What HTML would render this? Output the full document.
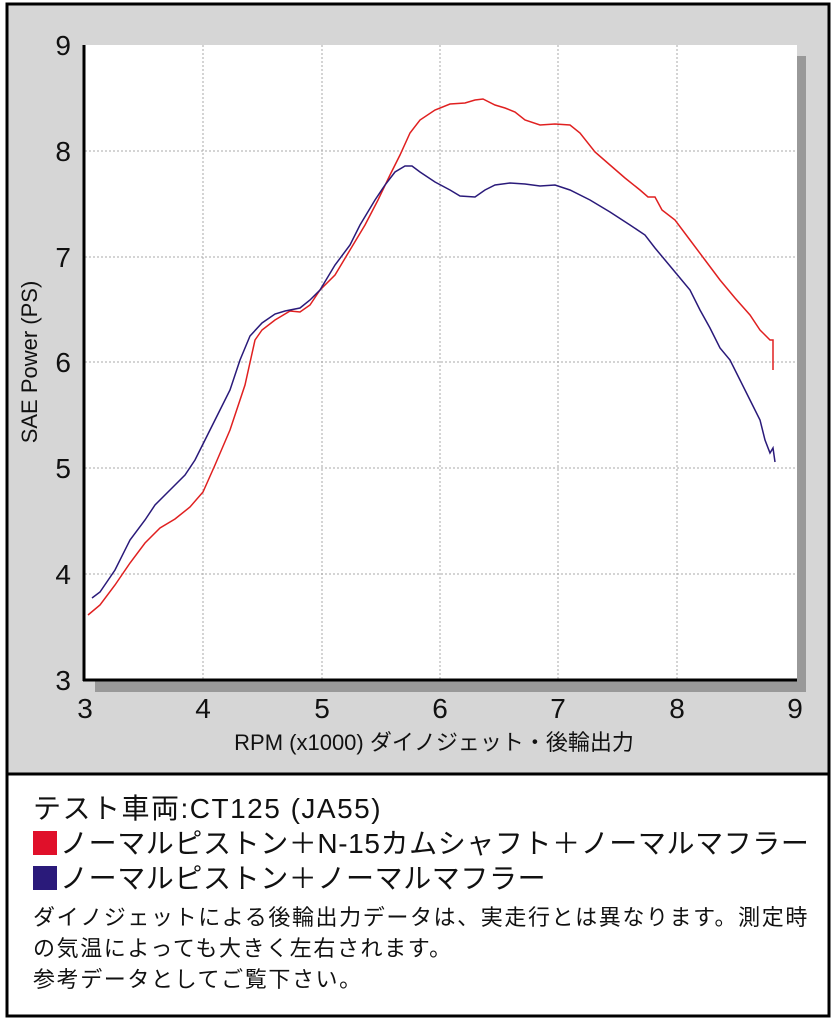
<!DOCTYPE html>
<html><head><meta charset="utf-8"><style>
html,body{margin:0;padding:0;background:#fff}
body{width:838px;height:1024px;position:relative;overflow:hidden;font-family:"Liberation Sans","Noto Sans CJK JP",sans-serif}
.t{position:absolute;white-space:nowrap;color:#111}
.sq{display:inline-block;width:24px;height:24px;margin:0 3px 0 2px;vertical-align:-2px}
</style></head><body>
<svg width="838" height="1024" style="position:absolute;left:0;top:0">
<rect x="7" y="4" width="822" height="770" fill="#d6d6d6"/>
<rect x="95" y="56" width="711" height="636" fill="#999"/>
<rect x="85" y="45" width="712" height="635" fill="#fff"/>
<g stroke="#aaa" stroke-width="1" stroke-dasharray="2,2">
<line x1="203" y1="45" x2="203" y2="680"/><line x1="322" y1="45" x2="322" y2="680"/><line x1="440" y1="45" x2="440" y2="680"/><line x1="558" y1="45" x2="558" y2="680"/><line x1="677" y1="45" x2="677" y2="680"/>
<line x1="85" y1="151" x2="797" y2="151"/><line x1="85" y1="257" x2="797" y2="257"/><line x1="85" y1="362" x2="797" y2="362"/><line x1="85" y1="468" x2="797" y2="468"/><line x1="85" y1="574" x2="797" y2="574"/>
</g>
<line x1="84" y1="45" x2="84" y2="681" stroke="#000" stroke-width="3"/>
<line x1="83" y1="680" x2="797" y2="680" stroke="#000" stroke-width="3"/>
<polyline fill="none" stroke="#e02020" stroke-width="1.5" points="88,615 100,605 115,585 130,563 145,543 160,528 175,519 190,507 203,492 215,465 230,430 245,385 255,340 262,330 275,320 290,311 300,312 310,305 320,290 335,275 350,250 365,225 378,200 390,175 400,155 410,133 420,120 435,110 450,104 465,103 475,100 483,99 495,105 505,108 515,112 525,120 540,125 555,124 570,125 580,133 595,152 610,165 625,178 640,190 648,197 655,197 662,210 675,220 690,240 705,260 720,280 735,298 750,315 760,330 765,335 770,340 773,340 773,370"/>
<polyline fill="none" stroke="#2a1a7a" stroke-width="1.5" points="92,598 100,592 115,570 130,540 145,520 155,505 170,490 185,475 195,460 205,440 215,420 230,390 240,360 250,336 262,323 275,314 285,311 300,308 310,300 320,290 335,265 350,245 360,225 375,200 385,185 395,172 405,166 412,166 420,172 435,182 450,190 460,196 475,197 485,190 495,185 510,183 525,184 540,186 555,185 570,190 590,200 610,212 630,225 645,235 655,248 665,260 680,278 690,290 700,310 710,328 720,348 730,360 740,380 750,400 760,420 765,440 770,453 773,448 775,462"/>
<rect x="7" y="4" width="822" height="1012" fill="none" stroke="#000" stroke-width="3"/>
<line x1="7" y1="774" x2="829" y2="774" stroke="#000" stroke-width="3"/>
<g font-family="Liberation Sans, sans-serif" font-size="28" fill="#111" text-anchor="end">
<text x="71" y="55">9</text><text x="71" y="161">8</text><text x="71" y="267">7</text><text x="71" y="372">6</text><text x="71" y="478">5</text><text x="71" y="584">4</text><text x="71" y="690">3</text>
</g>
<g font-family="Liberation Sans, sans-serif" font-size="28" fill="#111" text-anchor="middle">
<text x="85" y="718">3</text><text x="203" y="718">4</text><text x="322" y="718">5</text><text x="440" y="718">6</text><text x="558" y="718">7</text><text x="677" y="718">8</text><text x="795" y="718">9</text>
</g>
<text x="434" y="750" text-anchor="middle" font-family="Liberation Sans, Noto Sans CJK JP, sans-serif" font-size="22" fill="#111">RPM (x1000) ダイノジェット・後輪出力</text>
<text transform="translate(37,362) rotate(-90)" text-anchor="middle" font-family="Liberation Sans, sans-serif" font-size="22" fill="#111">SAE Power (PS)</text>
</svg>
<div class="t" style="left:33px;top:787px;font-size:28px;letter-spacing:1.5px">テスト車両:CT125 (JA55)</div>
<div class="t" style="left:31px;top:822px;font-size:28px;letter-spacing:0.6px"><span class="sq" style="background:#e0102a"></span>ノーマルピストン＋N-15カムシャフト＋ノーマルマフラー</div>
<div class="t" style="left:31px;top:857px;font-size:28px;letter-spacing:0.6px"><span class="sq" style="background:#2a1a7a"></span>ノーマルピストン＋ノーマルマフラー</div>
<div class="t" style="left:33px;top:900px;font-size:22px;letter-spacing:1.6px">ダイノジェットによる後輪出力データは、実走行とは異なります。測定時</div>
<div class="t" style="left:33px;top:931px;font-size:22px;letter-spacing:1.6px">の気温によっても大きく左右されます。</div>
<div class="t" style="left:33px;top:962px;font-size:22px;letter-spacing:1.6px">参考データとしてご覧下さい。</div>
</body></html>
